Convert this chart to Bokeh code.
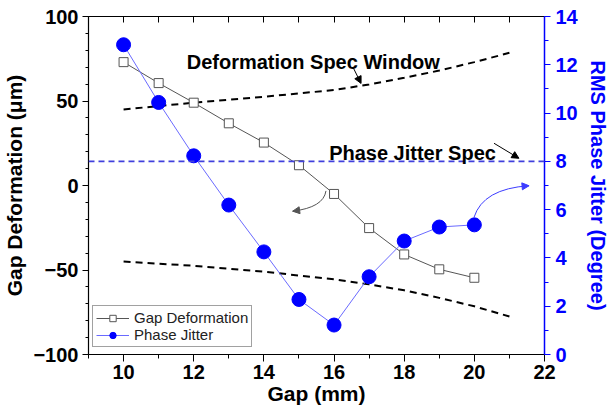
from bokeh.plotting import figure
from bokeh.models import (Range1d, LinearAxis, Label, Arrow, NormalHead, Legend,
                          LegendItem, FixedTicker, Span)
from bokeh.embed import file_html
from bokeh.resources import INLINE

# ---- data ----
gap = [10, 11, 12, 13, 14, 15, 16, 17, 18, 19, 20]
gap_deformation = [73.0, 60.6, 49.0, 36.8, 25.4, 12.0, -5.0, -25.2, -40.8, -49.6, -54.6]
phase_jitter = [12.83, 10.44, 8.23, 6.19, 4.25, 2.28, 1.22, 3.22, 4.70, 5.28, 5.37]
window_gap = [10, 12, 14, 16, 17, 18, 19, 20, 21]
window_upper = [45, 49, 52.5, 56.5, 59.8, 63.7, 68, 73, 78.5]
window_lower = [-45, -47.5, -51, -55.5, -58.5, -62, -66.5, -71.5, -77.5]
phase_spec = 8
x_ticks = [10, 12, 14, 16, 18, 20, 22]
left_ticks = [-100, -50, 0, 50, 100]
right_ticks = [0, 2, 4, 6, 8, 10, 12, 14]

FONT = "Liberation Sans"
BLUE = "#0000ff"

p = figure(frame_width=456, frame_height=338, output_backend="svg", toolbar_location=None,
           x_range=Range1d(9, 22), y_range=Range1d(-100, 100),
           min_border_left=87, min_border_right=0, min_border_top=16, min_border_bottom=0)
p.extra_y_ranges = {"jitter": Range1d(0, 14)}
p.outline_line_color = None
p.grid.visible = False
p.background_fill_color = "white"
p.border_fill_color = "white"

# bottom axis
xa = p.xaxis[0]
xa.ticker = FixedTicker(ticks=x_ticks, minor_ticks=list(range(9, 23)))
xa.axis_label = "Gap (mm)"
xa.axis_line_color = "black"
xa.axis_line_width = 1.2
xa.major_tick_line_color = "black"
xa.minor_tick_line_color = "black"
xa.major_tick_out = 7
xa.major_tick_in = 0
xa.minor_tick_out = 4
xa.minor_tick_in = 0
xa.major_label_standoff = 3
xa.axis_label_standoff = 0
xa.major_label_text_color = "black"
xa.major_label_text_font = FONT
xa.major_label_text_font_style = "bold"
xa.major_label_text_font_size = "20px"
xa.axis_label_text_color = "black"
xa.axis_label_text_font = FONT
xa.axis_label_text_font_style = "bold"
xa.axis_label_text_font_size = "21px"

# left axis
ya = p.yaxis[0]
ya.ticker = FixedTicker(ticks=left_ticks, minor_ticks=list(range(-100, 101, 10)))
ya.axis_label = "Gap Deformation (\u03bcm)"
ya.axis_line_color = "black"
ya.axis_line_width = 1.2
ya.major_tick_line_color = "black"
ya.minor_tick_line_color = "black"
ya.major_tick_out = 6
ya.major_tick_in = 0
ya.minor_tick_out = 3
ya.minor_tick_in = 0
ya.major_label_standoff = 4
ya.axis_label_standoff = 4
ya.major_label_text_color = "black"
ya.major_label_text_font = FONT
ya.major_label_text_font_style = "bold"
ya.major_label_text_font_size = "20px"
ya.axis_label_text_color = "black"
ya.axis_label_text_font = FONT
ya.axis_label_text_font_style = "bold"
ya.axis_label_text_font_size = "21px"

# top axis (ticks only)
ta = LinearAxis(ticker=FixedTicker(ticks=list(range(9, 23))))
ta.major_label_text_font_size = "1px"
ta.major_label_text_alpha = 0
ta.major_tick_in = 6
ta.major_tick_out = 0
ta.minor_tick_in = 0
ta.minor_tick_out = 0
ta.axis_line_color = "black"
ta.major_tick_line_color = "black"
ta.axis_line_width = 1.2
ta.major_label_standoff = 0
p.add_layout(ta, "above")

# right axis
ra = LinearAxis(y_range_name="jitter",
                ticker=FixedTicker(ticks=right_ticks, minor_ticks=list(range(0, 15))))
ra.axis_label = "RMS Phase Jitter (Degree)"
ra.axis_line_color = BLUE
ra.axis_line_width = 1.5
ra.major_tick_line_color = BLUE
ra.minor_tick_line_color = BLUE
ra.major_tick_out = 6
ra.major_tick_in = 0
ra.minor_tick_out = 4
ra.minor_tick_in = 0
ra.major_label_standoff = 5
ra.axis_label_standoff = 6
ra.major_label_text_color = BLUE
ra.major_label_text_font = FONT
ra.major_label_text_font_style = "bold"
ra.major_label_text_font_size = "20px"
ra.axis_label_text_color = BLUE
ra.axis_label_text_font = FONT
ra.axis_label_text_font_style = "bold"
ra.axis_label_text_font_size = "20px"
p.add_layout(ra, "right")

# spec window
p.line(window_gap, window_upper, line_color="black", line_width=2, line_dash="7 5")
p.line(window_gap, window_lower, line_color="black", line_width=2, line_dash="7 5")
p.add_layout(Span(location=phase_spec, dimension="width", y_range_name="jitter",
                  line_color="#4040dd", line_width=1.6, line_dash="6 4"))

# series
l1 = p.line(gap, gap_deformation, line_color="#555555", line_width=1)
s1 = p.scatter(gap, gap_deformation, marker="square", size=9, fill_color="white",
               line_color="#555555", line_width=1)
l2 = p.line(gap, phase_jitter, line_color="#6a6aff", line_width=1, y_range_name="jitter")
s2 = p.scatter(gap, phase_jitter, marker="circle", size=14, fill_color=BLUE,
               line_color=BLUE, y_range_name="jitter")

# annotations
p.add_layout(Label(x=11.8, y=73.0, text="Deformation Spec Window", text_font=FONT,
                   text_font_style="bold", text_font_size="20px", text_baseline="alphabetic",
                   text_color="black"))
p.add_layout(Label(x=15.86, y=19.1, text="Phase Jitter Spec", text_font=FONT,
                   text_font_style="bold", text_font_size="20px", text_baseline="alphabetic",
                   text_color="black"))
p.add_layout(Arrow(end=NormalHead(size=7, fill_color="black", line_color="black"),
                   x_start=16.54, y_start=70, x_end=16.77, y_end=60.4,
                   line_color="black", line_width=1))
p.add_layout(Arrow(end=NormalHead(size=7, fill_color="black", line_color="black"),
                   x_start=20.56, y_start=25.0, x_end=21.27, y_end=16.1,
                   line_color="black", line_width=1))

# curved arrows
def curved(x0, y0, cx, cy, x1, y1, color, rng):
    kw = {} if rng is None else {"y_range_name": rng}
    p.quadratic(x0=[x0], y0=[y0], cx=[cx], cy=[cy], x1=[x1], y1=[y1],
                line_color=color, line_width=1, **kw)
    t = 0.93
    xs = (1 - t) ** 2 * x0 + 2 * (1 - t) * t * cx + t ** 2 * x1
    ys = (1 - t) ** 2 * y0 + 2 * (1 - t) * t * cy + t ** 2 * y1
    p.add_layout(Arrow(end=NormalHead(size=7, fill_color=color, line_color=color),
                       x_start=xs, y_start=ys, x_end=x1, y_end=y1,
                       line_color=color, line_width=1, **kw))

curved(15.77, -3.2, 15.7, -13.0, 14.82, -15.2, "#555555", None)
curved(19.99, 5.68, 20.25, 6.87, 21.56, 6.99, "#3c3cff", "jitter")

legend = Legend(items=[LegendItem(label="Gap Deformation", renderers=[l1, s1]),
                       LegendItem(label="Phase Jitter", renderers=[l2, s2])],
                location=(4, 7), orientation="vertical")
legend.label_text_font = FONT
legend.label_text_font_size = "15px"
legend.label_text_color = "#222222"
legend.glyph_width = 33
legend.glyph_height = 16
legend.label_height = 16
legend.label_standoff = 5
legend.spacing = 0
legend.padding = 3
legend.margin = 0
legend.border_line_color = "#444444"
legend.border_line_width = 1
legend.background_fill_alpha = 1
p.add_layout(legend)

open("out.html", "w").write(file_html(p, INLINE))
